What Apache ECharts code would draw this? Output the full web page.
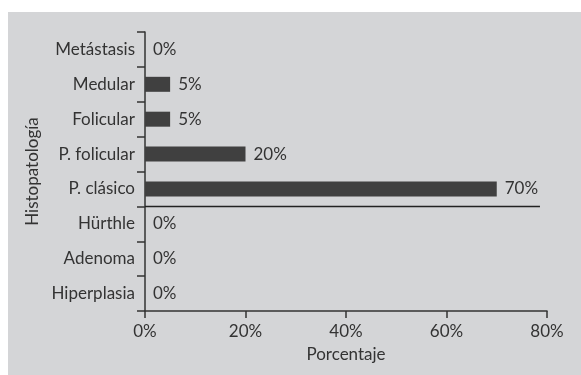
<!DOCTYPE html>
<html>
<head>
<meta charset="utf-8">
<script src="https://cdn.jsdelivr.net/npm/echarts@6/dist/echarts.min.js"></script>
<style>
  html, body { margin: 0; padding: 0; background: #ffffff; }
  #main { position: absolute; left: 8px; top: 12px; width: 573px; height: 363px; }
</style>
</head>
<body>
<div id="main"></div>
<script>
var categories = ['Metástasis', 'Medular', 'Folicular', 'P. folicular', 'P. clásico', 'Hürthle', 'Adenoma', 'Hiperplasia'];
var values = [0, 5, 5, 20, 70, 0, 0, 0];
var xTicks = [0, 20, 40, 60, 80];
// rule under "P. clásico", as in the original figure (band edge 5 of 8, counted from the top)
var ruleAt = 5;
var ruleEnd = 78.6;

var font = 'Lato, "Open Sans", sans-serif';
var ink = '#333333';

function DrawBars() {
    var chart = echarts.init(document.getElementById('main'));

    var option = {
        backgroundColor: '#d4d5d7',
        animation: false,
        textStyle: { fontFamily: font, color: ink },
        grid: { left: 137, top: 20, right: 34, bottom: 64 },
        xAxis: {
            type: 'value',
            position: 'bottom',
            min: xTicks[0],
            max: xTicks[xTicks.length - 1],
            interval: 20,
            name: 'Porcentaje',
            nameLocation: 'middle',
            nameGap: 35,
            nameTextStyle: { fontFamily: font, fontSize: 17, color: ink },
            axisLine: { show: true, onZero: false, lineStyle: { color: ink, width: 1.5 } },
            axisTick: { show: true, length: 7, lineStyle: { color: ink, width: 1.5 } },
            axisLabel: { fontFamily: font, fontSize: 17, color: ink, margin: 12, formatter: '{value}%' },
            splitLine: { show: false }
        },
        yAxis: [
            {
                type: 'category',
                inverse: true,
                data: categories,
                name: 'Histopatología',
                nameLocation: 'middle',
                nameGap: 103,
                nameRotate: 90,
                nameTextStyle: { fontFamily: font, fontSize: 17, color: ink },
                axisLine: { show: true, onZero: false, lineStyle: { color: ink, width: 1.5 } },
                axisTick: { show: true, length: 8, lineStyle: { color: ink, width: 1.5 } },
                axisLabel: { fontFamily: font, fontSize: 17, color: ink, margin: 10 },
                splitLine: { show: false }
            },
            {
                // helper axis for the rule: one unit per category band
                type: 'value',
                inverse: true,
                min: 0,
                max: categories.length,
                show: false
            }
        ],
        series: [
            {
                type: 'bar',
                data: values,
                barWidth: 15,
                itemStyle: { color: '#404040' },
                label: {
                    show: true,
                    position: 'right',
                    distance: 8,
                    formatter: '{c}%',
                    fontFamily: font,
                    fontSize: 17,
                    color: ink
                }
            },
            {
                type: 'line',
                yAxisIndex: 1,
                silent: true,
                symbol: 'none',
                lineStyle: { color: '#222222', width: 1.5 },
                data: [[0, ruleAt], [ruleEnd, ruleAt]]
            }
        ]
    };

    chart.setOption(option);
}

DrawBars();
</script>
</body>
</html>
